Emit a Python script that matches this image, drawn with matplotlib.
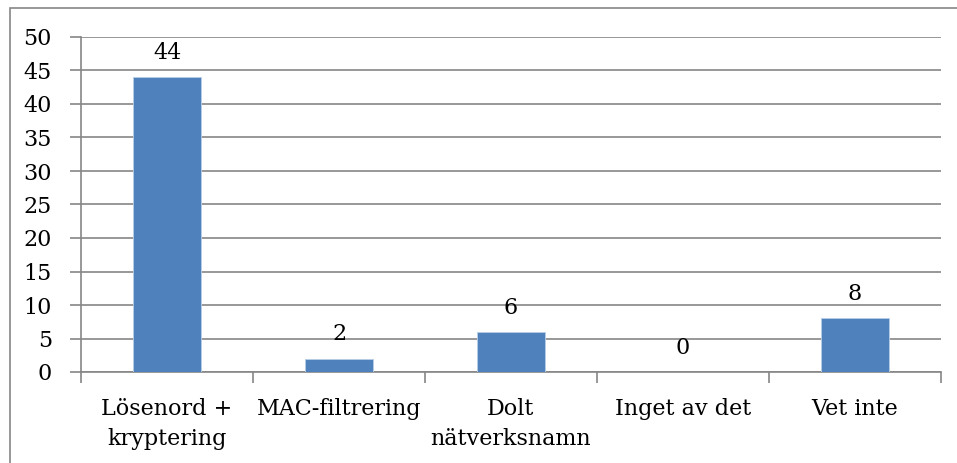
import matplotlib.pyplot as plt
from matplotlib.patches import Rectangle

categories = ["Lösenord +\nkryptering", "MAC-filtrering", "Dolt\nnätverksnamn", "Inget av det", "Vet inte"]
values = [44, 2, 6, 0, 8]
yticks = [0, 5, 10, 15, 20, 25, 30, 35, 40, 45, 50]

W, H = 957, 463
plt.rcParams['font.family'] = ['DejaVu Serif']
FS = 16
fig = plt.figure(figsize=(W / 100, H / 100), dpi=100)

# outer chart border (top/left visible)
fig.patches.append(Rectangle((10 / W, -0.05), 1.1, (H - 8) / H + 0.05, transform=fig.transFigure,
                             fill=False, edgecolor="#868686", linewidth=1.2))

x0, x1 = 81, 941
ytop, ybot = 37, 372
ax = fig.add_axes([x0 / W, (H - ybot) / H, (x1 - x0) / W, (ybot - ytop) / H])

xs = range(len(categories))
ax.bar(xs, values, width=0.4, color="#4F81BD", edgecolor="#B9CDE5", linewidth=0.6, zorder=3)
for x, v in zip(xs, values):
    ax.annotate(str(v), (x, v), xytext=(0, 9.5), textcoords="offset points",
                ha="center", va="bottom", fontsize=FS)

ax.set_xlim(-0.5, len(categories) - 0.5)
ax.set_ylim(0, 50)
ax.set_yticks(yticks)
ax.set_yticklabels([str(t) for t in yticks], fontsize=FS)
ax.yaxis.grid(True, color="#868686", linewidth=1.2, zorder=0)
ax.set_axisbelow(True)

ax.set_xticks([i + 0.5 for i in range(-1, len(categories))], minor=False)
ax.set_xticklabels([])
ax.set_xticks(list(xs), minor=True)
ax.set_xticklabels(categories, minor=True, fontsize=FS, linespacing=1.45)
ax.tick_params(axis="x", which="major", length=8, width=1.2, color="#868686")
ax.tick_params(axis="x", which="minor", length=0, pad=19)
ax.tick_params(axis="y", length=8, width=1.2, color="#868686", pad=13)

for s in ["top", "right"]:
    ax.spines[s].set_visible(False)
for s in ["left", "bottom"]:
    ax.spines[s].set_color("#868686")
    ax.spines[s].set_linewidth(1.2)

fig.savefig("out.png", dpi=100)
